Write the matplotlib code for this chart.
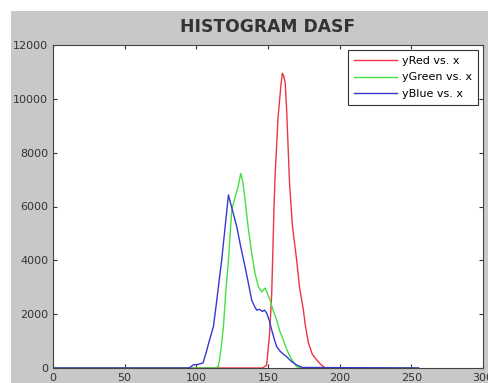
import matplotlib.pyplot as plt
from matplotlib.patches import Rectangle

# histogram knots (intensity, count)
x_red = [0, 146, 149, 151, 152.6, 154.2, 155, 157, 159, 160, 161, 162, 163, 165, 167, 170, 172, 174.7, 176, 178.2, 181, 184, 187, 190, 255]
y_red = [0, 0, 100, 1200, 2770, 6000, 7200, 9300, 10500, 10950, 10850, 10600, 9600, 6900, 5300, 4000, 3000, 2150, 1600, 930, 500, 300, 120, 0, 0]

x_green = [0, 113, 115.4, 117, 118.9, 120.5, 122.4, 124.7, 127, 129, 131, 132.5, 134, 136, 138.6, 141, 143.3, 145.6, 148, 151.4, 153.5, 156.1, 158, 160.7, 163, 165.4, 168, 170, 173, 255]
y_green = [0, 0, 60, 600, 1535, 2800, 4010, 5870, 6350, 6700, 7230, 6900, 6240, 5300, 4270, 3500, 3020, 2830, 2970, 2530, 2150, 1780, 1400, 1040, 700, 420, 200, 50, 0, 0]

x_blue = [0, 95, 98, 101, 104.7, 107, 109, 111.9, 114, 115.8, 117.7, 120, 122.4, 124, 126, 128.2, 131, 134, 136.5, 138.6, 140.5, 142.1, 144, 146, 147.5, 149.1, 151, 152.6, 154.5, 156.1, 158.5, 161, 163, 166, 170, 174, 255]
y_blue = [0, 0, 120, 130, 190, 600, 1000, 1535, 2400, 3200, 4010, 5200, 6430, 6100, 5700, 5250, 4500, 3760, 3100, 2530, 2300, 2150, 2180, 2100, 2150, 2040, 1750, 1410, 1050, 790, 620, 500, 420, 260, 110, 20, 0]

labels = ['yRed vs. x', 'yGreen vs. x', 'yBlue vs. x']
x_ticks = [0, 50, 100, 150, 200, 250, 300]
y_ticks = [0, 2000, 4000, 6000, 8000, 10000, 12000]

fig = plt.figure(figsize=(4.88, 3.83), dpi=100, facecolor='white')
# grey MATLAB-style figure background with a thin white margin top/left
fig.add_artist(Rectangle((11 / 488, 0), 1 - 11 / 488, (383 - 11) / 383,
                         transform=fig.transFigure, facecolor='#c8c8c8',
                         edgecolor='none', zorder=-10))

ax = fig.add_axes([53 / 488, 15 / 383, 430 / 488, 323 / 383])
ax.set_zorder(1)
ax.plot(x_red, y_red, color='#ee3344', lw=1, label=labels[0])
ax.plot(x_green, y_green, color='#44e044', lw=1, label=labels[1])
ax.plot(x_blue, y_blue, color='#3838d0', lw=1, label=labels[2])

ax.set_xlim(0, 300)
ax.set_ylim(0, 12000)
ax.set_xticks(x_ticks)
ax.set_yticks(y_ticks)
ax.tick_params(direction='in', top=True, right=True, labelsize=8, length=3,
               colors='#333333', labelcolor='#333333')
for s in ax.spines.values():
    s.set_color('#444444')
    s.set_linewidth(0.8)

ax.set_title('HISTOGRAM DASF', fontsize=12.3, fontweight='bold', color='#333333', pad=9)
leg = ax.legend(loc='upper right', fontsize=8, handlelength=3.9, handletextpad=0.45,
                fancybox=False, edgecolor='#333333', framealpha=1,
                borderaxespad=0.45, labelspacing=0.62, borderpad=0.5)
leg.get_frame().set_linewidth(0.8)

fig.savefig('out.png', dpi=100, facecolor=fig.get_facecolor())
